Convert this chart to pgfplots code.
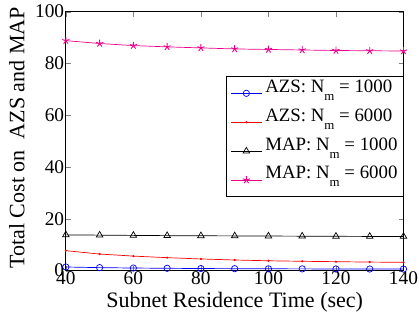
\documentclass[border=0pt]{standalone}
\usepackage{fontspec}
\setmainfont{Liberation Serif}
\usepackage{pgfplots}
\pgfplotsset{compat=1.18}
\newcommand{\Nm}{N\raisebox{-8bp}{\fontsize{13}{13}\selectfont m}}
\begin{document}
\begin{tikzpicture}
\begin{axis}[
  name=ax,
  scale only axis,
  width=339bp, height=260bp,
  xmin=40, xmax=140, ymin=0, ymax=100,
  xtick={40,60,...,140}, ytick={0,20,...,100},
  tick align=inside,
  major tick length=5bp,
  /pgf/number format/assume math mode=true,
  ticklabel style={font=\fontsize{19.5}{19.5}\selectfont},
  xticklabel style={inner sep=1bp},
  yticklabel style={inner sep=1.5bp},
  label style={font=\fontsize{22.2}{22.2}\selectfont, inner sep=1bp},
  xlabel={Subnet Residence Time (sec)},
  ylabel={Total Cost on\ \ AZS and MAP},
  xlabel style={at={(axis description cs:0.5,-0.123)}, anchor=center},
  ylabel style={at={(axis description cs:-0.145,0.513)}, anchor=center},
  legend style={at={(1,0.75)}, anchor=north east, draw=black, line width=1pt, inner xsep=4bp, inner ysep=2bp, row sep=0bp,
    nodes={font=\fontsize{19}{19}\selectfont, text depth=15bp, text height=13bp, inner ysep=0.5bp, inner xsep=1.5bp}},
  legend cell align=left,
  legend image code/.code={\draw[overlay,mark repeat=2,mark phase=2] plot coordinates {(0bp,0bp)(15.5bp,0bp)(31bp,0bp)};\path[draw=none,fill=none] (0bp,0bp) rectangle (33bp,0bp);},
  every axis plot/.append style={line width=0.7pt},
  axis line style={line width=1pt},
]
\coordinate (bbA) at (axis description cs:-0.195,-0.185);
\coordinate (bbB) at (axis description cs:1.04,1.045);
\addplot[blue, mark=o, mark size=3.2pt, mark options={line width=0.7pt}] coordinates {(40,1.4)(50,1.15)(60,1.0)(70,0.9)(80,0.8)(90,0.75)(100,0.7)(110,0.67)(120,0.64)(130,0.62)(140,0.6)};
\addlegendentry{AZS: \Nm\ = 1000}
\addplot[red, mark=*, mark size=0.7pt] coordinates {(40,7.7)(50,6.4)(60,5.6)(70,5.0)(80,4.5)(90,4.1)(100,3.8)(110,3.6)(120,3.45)(130,3.3)(140,3.2)};
\addlegendentry{AZS: \Nm\ = 6000}
\addplot[black, mark=triangle, mark size=3.8pt, mark options={line width=0.7pt}] coordinates {(40,13.8)(50,13.7)(60,13.6)(70,13.5)(80,13.45)(90,13.4)(100,13.35)(110,13.3)(120,13.25)(130,13.2)(140,13.2)};
\addlegendentry{MAP: \Nm\ = 1000}
\addplot[magenta, mark=star, mark size=3.8pt, mark options={line width=0.9pt}] coordinates {(40,88.8)(50,87.7)(60,86.9)(70,86.4)(80,86.0)(90,85.6)(100,85.4)(110,85.2)(120,85.0)(130,84.9)(140,84.8)};
\addlegendentry{MAP: \Nm\ = 6000}
\end{axis}
\path (bbA) (bbB);
\end{tikzpicture}
\end{document}
